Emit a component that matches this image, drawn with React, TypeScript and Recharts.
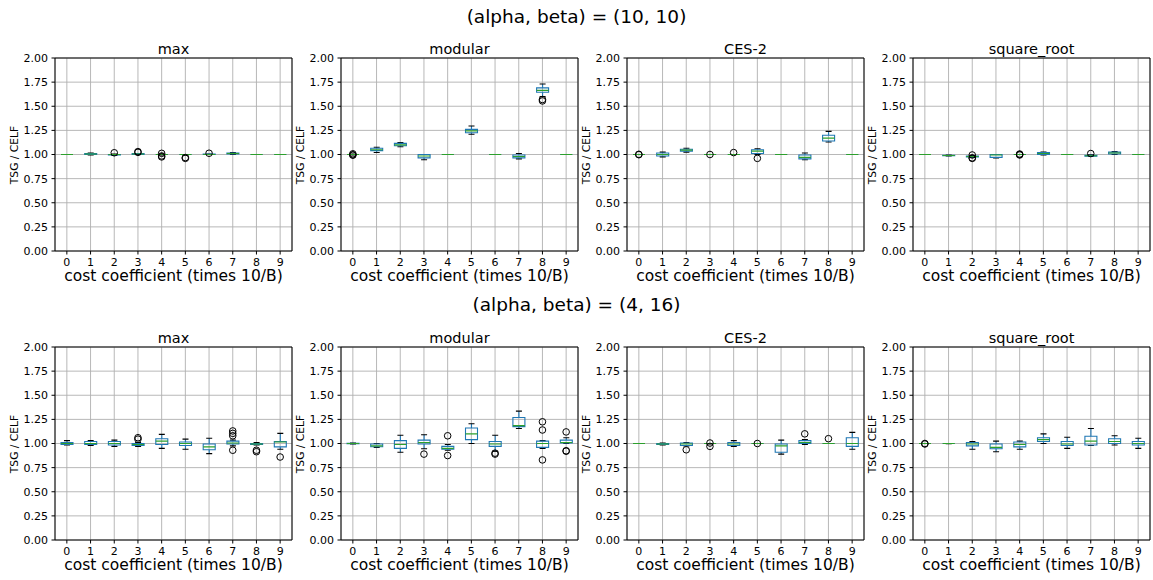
import React from "react"
import { ComposedChart, Bar, Scatter, XAxis, YAxis, CartesianGrid, ReferenceArea } from "recharts"

const CATS = ["0", "1", "2", "3", "4", "5", "6", "7", "8", "9"]
const Y_TICKS = [0, 0.25, 0.5, 0.75, 1, 1.25, 1.5, 1.75, 2]

// each box: [whisker low, q1, median, q3, whisker high]
// (alpha, beta) = (10, 10)
const TOP_MAX = [
  [1, 1, 1, 1, 1], [0.995, 1.0, 1.005, 1.01, 1.015], [0.99, 0.995, 1.0, 1.0, 1.005],
  [1.0, 1.0, 1.005, 1.01, 1.01], [0.995, 1.0, 1.0, 1.0, 1.005], [0.995, 1.0, 1.0, 1.0, 1.0],
  [1.0, 1.0, 1.0, 1.005, 1.005], [1.0, 1.005, 1.01, 1.015, 1.02], [1, 1, 1, 1, 1], [1, 1, 1, 1, 1],
]
const TOP_MAX_OUT = [[], [], [1.018], [1.022, 1.03], [1.012, 0.985, 0.975], [0.968, 0.96], [1.013], [], [], []]

const TOP_MOD = [
  [0.995, 1.0, 1.0, 1.0, 1.005], [1.02, 1.04, 1.05, 1.065, 1.075], [1.08, 1.09, 1.1, 1.115, 1.125],
  [0.945, 0.965, 0.985, 1.0, 1.0], [1, 1, 1, 1, 1], [1.21, 1.226, 1.245, 1.26, 1.295],
  [1, 1, 1, 1, 1], [0.955, 0.965, 0.98, 0.995, 1.01], [1.6, 1.645, 1.665, 1.69, 1.73], [1, 1, 1, 1, 1],
]
const TOP_MOD_OUT = [[0.993, 1.007, 0.997], [], [], [], [], [], [], [], [1.57, 1.555], []]

const TOP_CES = [
  [1, 1, 1, 1, 1], [0.975, 0.985, 1.0, 1.015, 1.025], [1.025, 1.035, 1.045, 1.055, 1.065],
  [1, 1, 1, 1, 1], [1, 1, 1, 1, 1], [1.0, 1.01, 1.035, 1.05, 1.06],
  [1, 1, 1, 1, 1], [0.945, 0.955, 0.97, 0.995, 1.015], [1.13, 1.14, 1.17, 1.2, 1.24], [1, 1, 1, 1, 1],
]
const TOP_CES_OUT = [[0.998, 1.002], [], [], [1.0], [1.02], [0.96], [], [], [], []]

const TOP_SQR = [
  [1, 1, 1, 1, 1], [0.985, 0.988, 0.99, 0.992, 0.995], [0.97, 0.975, 0.98, 0.985, 0.99],
  [0.965, 0.97, 0.995, 1.0, 1.0], [1, 1, 1, 1, 1], [0.995, 1.0, 1.01, 1.02, 1.025],
  [1, 1, 1, 1, 1], [0.98, 0.983, 0.987, 0.993, 0.998], [1.0, 1.005, 1.015, 1.025, 1.03], [1, 1, 1, 1, 1],
]
const TOP_SQR_OUT = [[], [], [0.995, 0.965, 0.96], [], [0.995, 1.005, 1.0], [], [], [1.01], [], []]

// (alpha, beta) = (4, 16)
const BOT_MAX = [
  [0.985, 0.99, 1.0, 1.01, 1.03], [0.98, 0.99, 1.0, 1.02, 1.03], [0.97, 0.985, 1.0, 1.02, 1.035],
  [0.97, 0.98, 0.99, 1.0, 1.01], [0.95, 0.99, 1.025, 1.05, 1.095], [0.94, 0.98, 1.0, 1.015, 1.045],
  [0.895, 0.935, 0.965, 0.995, 1.055], [0.975, 0.995, 1.005, 1.025, 1.035], [0.985, 0.99, 0.995, 1.0, 1.01],
  [0.94, 0.965, 1.015, 1.02, 1.105],
]
const BOT_MAX_OUT = [[], [], [], [1.06, 1.045], [], [], [], [1.13, 1.105, 1.08, 0.93], [0.93, 0.915], [0.86]]

const BOT_MOD = [
  [0.995, 0.998, 1.0, 1.002, 1.005], [0.96, 0.967, 0.975, 0.995, 1.0], [0.91, 0.95, 0.99, 1.03, 1.085],
  [0.945, 0.995, 1.01, 1.035, 1.09], [0.93, 0.94, 0.95, 0.97, 0.99], [1.0, 1.04, 1.1, 1.16, 1.205],
  [0.92, 0.97, 0.995, 1.02, 1.085], [1.155, 1.175, 1.185, 1.27, 1.335], [0.95, 0.96, 1.0, 1.025, 1.03],
  [1.0, 1.005, 1.01, 1.035, 1.06],
]
const BOT_MOD_OUT = [[], [], [], [0.89], [1.08, 0.875], [], [0.9, 0.89], [], [1.225, 1.14, 0.83], [1.12, 0.925, 0.92]]

const BOT_CES = [
  [1, 1, 1, 1, 1], [0.985, 0.99, 0.995, 1.0, 1.005], [0.975, 0.98, 0.995, 1.005, 1.01],
  [0.995, 1.0, 1.0, 1.0, 1.0], [0.97, 0.98, 0.995, 1.01, 1.03], [1, 1, 1, 1, 1],
  [0.89, 0.91, 0.975, 0.995, 1.035], [0.99, 1.0, 1.01, 1.03, 1.04], [1, 1, 1, 1, 1],
  [0.94, 0.97, 1.0, 1.06, 1.115],
]
const BOT_CES_OUT = [[], [], [0.935], [1.005, 0.97], [], [1.0], [], [1.1], [1.05], []]

const BOT_SQR = [
  [1, 1, 1, 1, 1], [0.998, 1, 1, 1, 1], [0.94, 0.975, 0.995, 1.01, 1.02],
  [0.915, 0.945, 0.96, 0.995, 1.025], [0.94, 0.965, 0.99, 1.015, 1.025], [1.0, 1.02, 1.04, 1.06, 1.1],
  [0.95, 0.98, 0.995, 1.02, 1.065], [0.98, 0.985, 1.025, 1.075, 1.155], [0.985, 1.0, 1.02, 1.05, 1.08],
  [0.95, 0.985, 1.0, 1.02, 1.055],
]
const BOT_SQR_OUT = [[0.995, 1.0], [], [], [], [], [], [], [], [], []]

const BLUE = "#1f77b4"
const GREEN = "#2ca02c"
const PW = 237
const PH = 193
const COL_LEFT = [55, 341, 627, 913]
const OUT_KEYS = ["o0", "o1", "o2", "o3"]

function buildRows(boxes: number[][], outs: number[][]) {
  return CATS.map((cat, i) => {
    const [lo, q1, med, q3, hi] = boxes[i]
    const row: any = { cat, lo, q1, med, q3, hi }
    outs[i].forEach((v, j) => {
      row["o" + j] = v
    })
    return row
  })
}

// box drawn on top of a bar that spans 0..hi, so the bar gives us the y scale
function BoxShape(props: any) {
  const { x, y, width, height, payload } = props
  if (!payload || !(height > 0)) return <g />
  const k = height / payload.hi
  const base = y + height
  const py = (v: number) => base - v * k
  const cx = x + width / 2
  const cw = width / 4
  const yq1 = py(payload.q1)
  const yq3 = py(payload.q3)
  // path instead of rect so a flat box still draws as a line
  const boxPath = `M${x},${yq3}H${x + width}V${yq1}H${x}Z`
  return (
    <g strokeWidth={1.1}>
      <line x1={cx} x2={cx} y1={py(payload.lo)} y2={yq1} stroke={BLUE} />
      <line x1={cx} x2={cx} y1={yq3} y2={py(payload.hi)} stroke={BLUE} />
      <line x1={cx - cw} x2={cx + cw} y1={py(payload.lo)} y2={py(payload.lo)} stroke="#000" />
      <line x1={cx - cw} x2={cx + cw} y1={py(payload.hi)} y2={py(payload.hi)} stroke="#000" />
      <path d={boxPath} fill="none" stroke={BLUE} />
      <line x1={x} x2={x + width} y1={py(payload.med)} y2={py(payload.med)} stroke={GREEN} />
    </g>
  )
}

function Flier(props: any) {
  const { cx, cy } = props
  if (cx == null || cy == null || !Number.isFinite(cx) || !Number.isFinite(cy)) return <g />
  return <circle cx={cx} cy={cy} r={3.3} fill="none" stroke="#000" strokeWidth={1} />
}

function Panel({ left, top, title, rows }: { left: number; top: number; title: string; rows: any[] }) {
  return (
    <>
      <div
        style={{ position: "absolute", left, top: top - 19, width: PW, height: 20, lineHeight: "20px", textAlign: "center", fontSize: 14.5 }}
      >
        {title}
      </div>
      <div style={{ position: "absolute", left: left - 50, top: top - 10 }}>
        <ComposedChart width={PW + 60} height={PH + 40} data={rows} margin={{ top: 10, right: 10, bottom: 0, left: 0 }}>
          <CartesianGrid stroke="#b0b0b0" strokeWidth={0.9} />
          <XAxis
            dataKey="cat"
            type="category"
            interval={0}
            height={30}
            axisLine={false}
            tickLine={{ stroke: "#000" }}
            tickSize={3.5}
            tickMargin={3.5}
            tick={{ fill: "#000", fontSize: 11 }}
          />
          <YAxis
            type="number"
            domain={[0, 2]}
            ticks={Y_TICKS}
            interval={0}
            allowDataOverflow
            width={50}
            axisLine={false}
            tickLine={{ stroke: "#000" }}
            tickSize={3.5}
            tickMargin={3.5}
            tick={{ fill: "#000", fontSize: 11 }}
            tickFormatter={(v: number) => v.toFixed(2)}
          />
          <Bar dataKey="hi" barSize={12} shape={BoxShape} isAnimationActive={false} />
          {OUT_KEYS.map((k) => (
            <Scatter key={k} dataKey={k} shape={Flier} isAnimationActive={false} />
          ))}
          <ReferenceArea y1={0} y2={2} fill="none" stroke="#000" strokeWidth={1} ifOverflow="visible" />
        </ComposedChart>
      </div>
      <div
        style={{ position: "absolute", left, top: top + PH + 15, width: PW, height: 20, lineHeight: "20px", textAlign: "center", fontSize: 15.5 }}
      >
        cost coefficient (times 10/B)
      </div>
      <div
        style={{
          position: "absolute",
          left: left - 40 - 50,
          top: top + PH / 2 - 7,
          width: 100,
          height: 14,
          lineHeight: "14px",
          textAlign: "center",
          fontSize: 10.7,
          transform: "rotate(-90deg)",
        }}
      >
        TSG / CELF
      </div>
    </>
  )
}

const TOP_ROW = [
  { title: "max", rows: buildRows(TOP_MAX, TOP_MAX_OUT) },
  { title: "modular", rows: buildRows(TOP_MOD, TOP_MOD_OUT) },
  { title: "CES-2", rows: buildRows(TOP_CES, TOP_CES_OUT) },
  { title: "square_root", rows: buildRows(TOP_SQR, TOP_SQR_OUT) },
]
const BOT_ROW = [
  { title: "max", rows: buildRows(BOT_MAX, BOT_MAX_OUT) },
  { title: "modular", rows: buildRows(BOT_MOD, BOT_MOD_OUT) },
  { title: "CES-2", rows: buildRows(BOT_CES, BOT_CES_OUT) },
  { title: "square_root", rows: buildRows(BOT_SQR, BOT_SQR_OUT) },
]

export default function App() {
  return (
    <div
      style={{
        position: "absolute",
        left: 0,
        top: 0,
        width: 1153,
        height: 580,
        background: "#fff",
        overflow: "hidden",
        fontFamily: '"DejaVu Sans", sans-serif',
        color: "#000",
      }}
    >
      <div style={{ position: "absolute", left: 0, top: 5, width: 1153, height: 24, lineHeight: "24px", textAlign: "center", fontSize: 18.5 }}>
        (alpha, beta) = (10, 10)
      </div>
      <div style={{ position: "absolute", left: 0, top: 293, width: 1153, height: 24, lineHeight: "24px", textAlign: "center", fontSize: 18.5 }}>
        (alpha, beta) = (4, 16)
      </div>
      {TOP_ROW.map((p, i) => (
        <Panel key={"t" + i} left={COL_LEFT[i]} top={58} title={p.title} rows={p.rows} />
      ))}
      {BOT_ROW.map((p, i) => (
        <Panel key={"b" + i} left={COL_LEFT[i]} top={347} title={p.title} rows={p.rows} />
      ))}
    </div>
  )
}
